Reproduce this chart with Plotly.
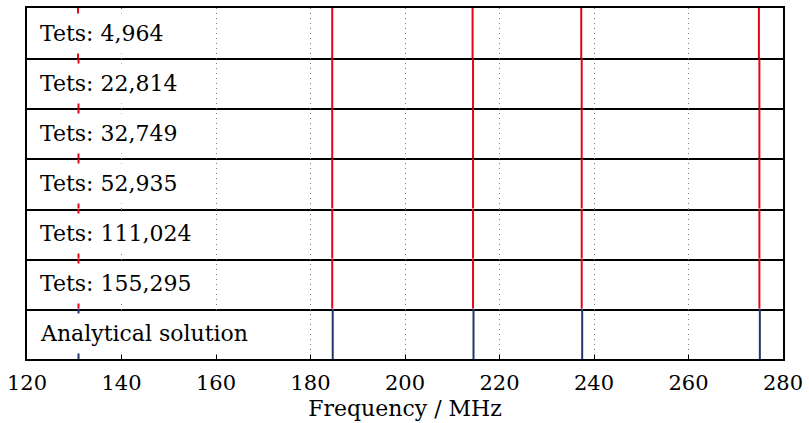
import plotly.graph_objects as go
from plotly.subplots import make_subplots

# Eigenfrequencies (MHz) per mesh refinement, plus the analytical reference
row_labels = [
    "Tets: 4,964",
    "Tets: 22,814",
    "Tets: 32,749",
    "Tets: 52,935",
    "Tets: 111,024",
    "Tets: 155,295",
    "Analytical solution",
]
freqs_4964 = [130.8, 184.6, 214.3, 237.3, 274.9]
freqs_22814 = [130.9, 184.6, 214.4, 237.4, 275.0]
freqs_32749 = [130.9, 184.6, 214.4, 237.4, 275.0]
freqs_52935 = [130.9, 184.6, 214.4, 237.4, 275.0]
freqs_111024 = [130.9, 184.6, 214.4, 237.4, 275.0]
freqs_155295 = [130.9, 184.6, 214.4, 237.4, 275.0]
freqs_analytical = [130.9, 184.7, 214.5, 237.5, 275.1]

row_freqs = [freqs_4964, freqs_22814, freqs_32749, freqs_52935,
             freqs_111024, freqs_155295, freqs_analytical]

x_range = [120, 280]
x_ticks = [120, 140, 160, 180, 200, 220, 240, 260, 280]

RED = "#e3051b"
BLUE = "#21386e"
FONT = "DejaVu Serif"

n_rows = len(row_labels)
fig = make_subplots(rows=n_rows, cols=1, shared_xaxes=True, vertical_spacing=0)

for i, (label, freqs) in enumerate(zip(row_labels, row_freqs), start=1):
    color = BLUE if i == n_rows else RED
    xs, ys = [], []
    for f in freqs:
        xs += [f, f, None]
        ys += [0, 1, None]
    fig.add_trace(
        go.Scatter(x=xs, y=ys, mode="lines",
                   line=dict(color=color, width=2),
                   showlegend=False, hoverinfo="skip"),
        row=i, col=1,
    )
    fig.add_annotation(
        text=label, xref="x domain" if i == 1 else f"x{i} domain",
        yref="y domain" if i == 1 else f"y{i} domain",
        x=0, y=0.5, xanchor="left", yanchor="middle", xshift=5,
        showarrow=False, bgcolor="white", borderpad=7,
        font=dict(family=FONT, size=22, color="black"),
    )
    fig.update_yaxes(
        range=[0, 1], showticklabels=False, showgrid=False, zeroline=False,
        showline=True, mirror=True, linewidth=2, linecolor="black", ticks="",
        row=i, col=1,
    )
    # each row draws only its bottom edge; the top row also draws the top frame
    fig.update_xaxes(
        range=x_range, tickvals=x_ticks, showgrid=True, gridcolor="#7a7a7a",
        griddash="1px,4px", gridwidth=1, zeroline=False,
        showline=True, mirror=(i == 1), linewidth=2, linecolor="black",
        ticks="inside" if i == n_rows else "", ticklen=4, tickcolor="black",
        showticklabels=(i == n_rows),
        row=i, col=1,
    )

fig.update_xaxes(
    title=dict(text="Frequency / MHz", font=dict(family=FONT, size=22, color="black"),
               standoff=6),
    tickfont=dict(family=FONT, size=21, color="black"),
    ticklabelstandoff=4,
    row=n_rows, col=1,
)

fig.update_layout(
    width=809, height=423,
    margin=dict(l=27, r=26, t=6, b=64),
    paper_bgcolor="white", plot_bgcolor="white",
    showlegend=False,
)

fig.write_html("out.html")
